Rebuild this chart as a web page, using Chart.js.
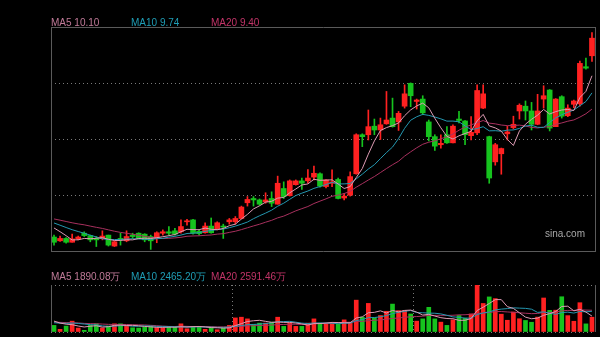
<!DOCTYPE html>
<html>
<head>
<meta charset="utf-8">
<script src="https://cdn.jsdelivr.net/npm/chart.js@4.4.1/dist/chart.umd.min.js"></script>
<style>
  html, body { margin: 0; padding: 0; background: #000; }
  #wrap { position: relative; width: 600px; height: 337px; overflow: hidden; background: #000; }
  #wrap canvas { position: absolute; left: 0; top: 0; }
  .lbl { position: absolute; font: 10px "Liberation Sans", Arial, sans-serif; line-height: 10px; white-space: nowrap; }
</style>
</head>
<body>
<div id="wrap">
  <canvas id="price" width="600" height="337"></canvas>
  <canvas id="volume" width="600" height="337"></canvas>
  <span class="lbl" id="pMa5"  style="left:51px;top:18px;color:#c07a98"></span>
  <span class="lbl" id="pMa10" style="left:131px;top:18px;color:#1f9db5"></span>
  <span class="lbl" id="pMa20" style="left:211px;top:18px;color:#c23468"></span>
  <span class="lbl" id="vMa5"  style="left:51px;top:272px;color:#c07a98"></span>
  <span class="lbl" id="vMa10" style="left:131px;top:272px;color:#1f9db5"></span>
  <span class="lbl" id="vMa20" style="left:211px;top:272px;color:#c23468"></span>
  <span class="lbl" id="brand" style="left:545px;top:229px;color:#a8a8a8">sina.com</span>
</div>
<script>
// Daily bars, oldest first (price in yuan, volume in 万 shares)
const opens = [6.71,6.63,6.68,6.60,6.67,6.79,6.74,6.68,6.68,6.75, 6.52,6.68,6.63,6.75,6.79,6.77,6.72,6.68,6.79,6.82,
  6.84,6.82,7.03,7.07,6.83,6.80,6.94,6.87,6.94,7.03, 7.03,7.10,7.43,7.52,7.49,7.45,7.52,7.40,7.73,7.58,
  7.81,7.89,7.89,7.97,8.04,7.77,7.84,7.92,7.53,7.59, 8.04,8.86,8.86,9.04,8.96,9.09,9.21,9.13,9.46,9.94,
  9.56,9.61,9.13,8.82,8.65,8.86,8.69,9.19,9.15,8.84, 8.90,9.42,8.82,8.29,8.46,8.88,9.01,9.36,9.46,9.36,
  9.08,9.61,9.80,9.03,9.66,9.26,9.50,9.51,10.29,10.52];
const highs = [6.75,6.73,6.70,6.77,6.73,6.82,6.75,6.72,6.84,6.75, 6.63,6.79,6.84,6.79,6.80,6.78,6.75,6.82,6.86,6.93,
  6.89,7.07,7.08,7.08,6.86,7.01,7.11,7.03,6.98,7.10, 7.14,7.36,7.56,7.56,7.51,7.64,7.66,7.99,7.87,7.91,
  7.91,7.95,8.13,8.20,8.06,7.92,8.12,7.95,7.63,8.08, 8.88,8.88,9.38,9.19,9.21,9.77,9.63,9.35,9.91,9.95,
  9.61,9.68,9.17,8.86,8.86,9.03,9.07,9.35,9.16,9.24, 9.91,9.91,8.83,8.68,8.58,9.04,9.25,9.51,9.57,9.54,
  9.71,9.89,9.81,9.62,9.68,9.49,9.59,10.41,10.47,11.01];
const lows = [6.54,6.62,6.58,6.60,6.65,6.72,6.61,6.51,6.65,6.52, 6.51,6.54,6.61,6.68,6.67,6.61,6.45,6.59,6.75,6.75,
  6.75,6.79,6.96,6.77,6.75,6.79,6.79,6.86,6.68,6.98, 6.98,7.09,7.36,7.36,7.38,7.42,7.35,7.40,7.52,7.57,
  7.80,7.71,7.84,7.91,7.76,7.74,7.77,7.51,7.49,7.57, 8.03,8.61,8.75,8.86,8.76,9.08,9.02,8.95,9.42,9.45,
  9.40,9.28,8.73,8.53,8.58,8.68,8.69,9.11,8.65,8.75, 8.86,9.41,7.84,8.22,8.03,8.75,8.98,9.19,9.17,8.96,
  9.07,9.42,8.94,9.03,9.21,9.24,9.43,9.46,10.24,10.40];
const closes = [6.60,6.68,6.60,6.67,6.71,6.74,6.65,6.65,6.73,6.54, 6.61,6.66,6.72,6.72,6.68,6.65,6.63,6.80,6.82,6.79,
  6.77,6.93,7.05,6.79,6.78,6.94,6.80,7.01,6.92,7.07, 7.10,7.34,7.50,7.49,7.40,7.49,7.42,7.84,7.56,7.89,
  7.89,7.84,7.95,8.05,7.78,7.91,7.87,7.52,7.57,7.98, 8.86,8.82,9.03,8.96,9.07,9.17,9.03,9.31,9.72,9.68,
  9.59,9.32,8.82,8.62,8.68,8.69,9.04,9.16,8.86,8.91, 9.79,9.72,7.95,8.65,8.57,8.92,9.08,9.48,9.36,9.08,
  9.36,9.68,9.00,9.61,9.25,9.42,9.57,10.36,10.26,10.89];
const volumes = [787,317,705,1293,470,200,787,975,470,705, 975,975,787,505,470,588,705,505,470,588,
  588,975,388,670,670,317,588,270,470,787, 1680,1763,1563,905,1058,1058,1175,1763,670,1058,
  670,670,1058,1563,1058,975,1058,975,1445,1058, 3795,1763,3408,1680,1962,2468,3325,2550,2550,2150,
  1293,1563,2938,1563,1175,787,1445,1962,1645,2150, 5600,3400,4180,3980,2120,1400,2380,1580,1375,1162.2,
  1775.6,4052,2574,2600,4200,1950.2,1280.5,3490.3,968.4,1761];

// Sessions before the first visible bar, needed to seed the moving averages
const priorCloses = [7.20,7.15,7.22,7.18,7.12,7.20,7.16,7.19,7.14,7.19, 7.15,7.08,7.13,7.10,7.09, 7.07,7.02,7.12,6.69];
const priorVolumes = [1400,1200,1500,1100,1300,1250,1350,1200,1400,1300, 800,950,1000,850,900, 1500,1350,1600,1263];

const sessions = opens.map((_, i) => 'D' + (i + 1));
const maPeriods = [5, 10, 20];
const priceRange = [6.395, 11.125];
const volumeMax = 5600;

const UP = '#ff2121', DOWN = '#16c31e';
const maColors = ['#dc9ab3', '#2497b0', '#a8305e'];
const GRID = '#7a7a7a', DOTS = [1, 3];

function movingAverage(history, series, n) {
  const all = history.concat(series);
  const off = history.length;
  return series.map((_, i) => {
    let s = 0;
    for (let k = off + i - n + 1; k <= off + i; k++) s += all[k];
    return s / n;
  });
}

const priceMA = maPeriods.map(n => movingAverage(priorCloses, closes, n));
const volumeMA = maPeriods.map(n => movingAverage(priorVolumes, volumes, n));
const barColors = closes.map((c, i) => (c >= opens[i] ? UP : DOWN));

// header readouts
const last = a => a[a.length - 1];
['pMa5', 'pMa10', 'pMa20'].forEach((id, k) => {
  document.getElementById(id).textContent = 'MA' + maPeriods[k] + ' ' + last(priceMA[k]).toFixed(2);
});
['vMa5', 'vMa10', 'vMa20'].forEach((id, k) => {
  document.getElementById(id).textContent = 'MA' + maPeriods[k] + ' ' + last(volumeMA[k]).toFixed(2) + '万';
});

// plot frame: solid edges around the chart area
const frame = {
  id: 'frame',
  afterDraw(chart, args, opts) {
    const { ctx, chartArea: a } = chart;
    ctx.save();
    ctx.strokeStyle = opts.color;
    ctx.lineWidth = 1;
    ctx.beginPath();
    const s = opts.sides;
    if (s.includes('left'))   { ctx.moveTo(a.left + 0.5, a.top); ctx.lineTo(a.left + 0.5, a.bottom); }
    if (s.includes('right'))  { ctx.moveTo(a.right + 0.5, a.top); ctx.lineTo(a.right + 0.5, a.bottom); }
    if (s.includes('top'))    { ctx.moveTo(a.left, a.top + 0.5); ctx.lineTo(a.right + 1, a.top + 0.5); }
    if (s.includes('bottom')) { ctx.moveTo(a.left, a.bottom - 0.5); ctx.lineTo(a.right + 1, a.bottom - 0.5); }
    ctx.stroke();
    ctx.restore();
  }
};

const maLine = (data, k) => ({
  type: 'line', data, borderColor: maColors[k], borderWidth: 1,
  pointRadius: 0, tension: 0, fill: false, order: 0
});

const common = {
  responsive: false,
  animation: false,
  devicePixelRatio: 1,
  events: [],
  plugins: { legend: { display: false }, tooltip: { enabled: false } }
};

// price panel
new Chart(document.getElementById('price'), {
  type: 'bar',
  data: {
    labels: sessions,
    datasets: [
      maLine(priceMA[0], 0), maLine(priceMA[1], 1), maLine(priceMA[2], 2),
      { data: closes.map((c, i) => [opens[i], c]), backgroundColor: barColors,
        barThickness: 5, minBarLength: 1, grouped: false, order: 1 },
      { data: highs.map((h, i) => [lows[i], h]), backgroundColor: barColors,
        barThickness: 1, minBarLength: 1, grouped: false, order: 2 }
    ]
  },
  options: {
    ...common,
    layout: { padding: { left: 51, right: 5, top: 27, bottom: 85 }, autoPadding: false },
    plugins: { ...common.plugins, frame: { color: '#5a5a5a', sides: ['left', 'right', 'top', 'bottom'] } },
    scales: {
      x: { offset: true, grid: { display: false, drawTicks: false }, ticks: { display: false }, border: { display: false } },
      y: {
        min: priceRange[0], max: priceRange[1],
        afterBuildTicks: s => { s.ticks = [0, 1, 2, 3, 4].map(k => ({ value: priceRange[0] + k * (priceRange[1] - priceRange[0]) / 4 })); },
        grid: { drawTicks: false, color: c => (c.index > 0 && c.index < 4 ? GRID : 'transparent') },
        border: { display: false, dash: DOTS },
        ticks: { display: false }
      }
    }
  },
  plugins: [frame]
});

// volume panel
new Chart(document.getElementById('volume'), {
  type: 'bar',
  data: {
    labels: sessions,
    datasets: [
      maLine(volumeMA[0], 0), maLine(volumeMA[1], 1), maLine(volumeMA[2], 2),
      { data: volumes, backgroundColor: barColors, barThickness: 4, grouped: false, order: 1 }
    ]
  },
  options: {
    ...common,
    layout: { padding: { left: 51, right: 5, top: 285, bottom: 5 }, autoPadding: false },
    plugins: { ...common.plugins, frame: { color: '#5a5a5a', sides: ['left', 'right'] } },
    scales: {
      x: {
        offset: true,
        grid: { offset: true, drawTicks: false, color: c => (c.index === 30 || c.index === 60 ? GRID : 'transparent') },
        border: { display: false, dash: DOTS },
        ticks: { display: false }
      },
      y: {
        min: 0, max: volumeMax,
        afterBuildTicks: s => { s.ticks = [{ value: 0 }, { value: volumeMax }]; },
        grid: { drawTicks: false, color: GRID },
        border: { display: false, dash: DOTS },
        ticks: { display: false }
      }
    }
  },
  plugins: [frame]
});
</script>
</body>
</html>
